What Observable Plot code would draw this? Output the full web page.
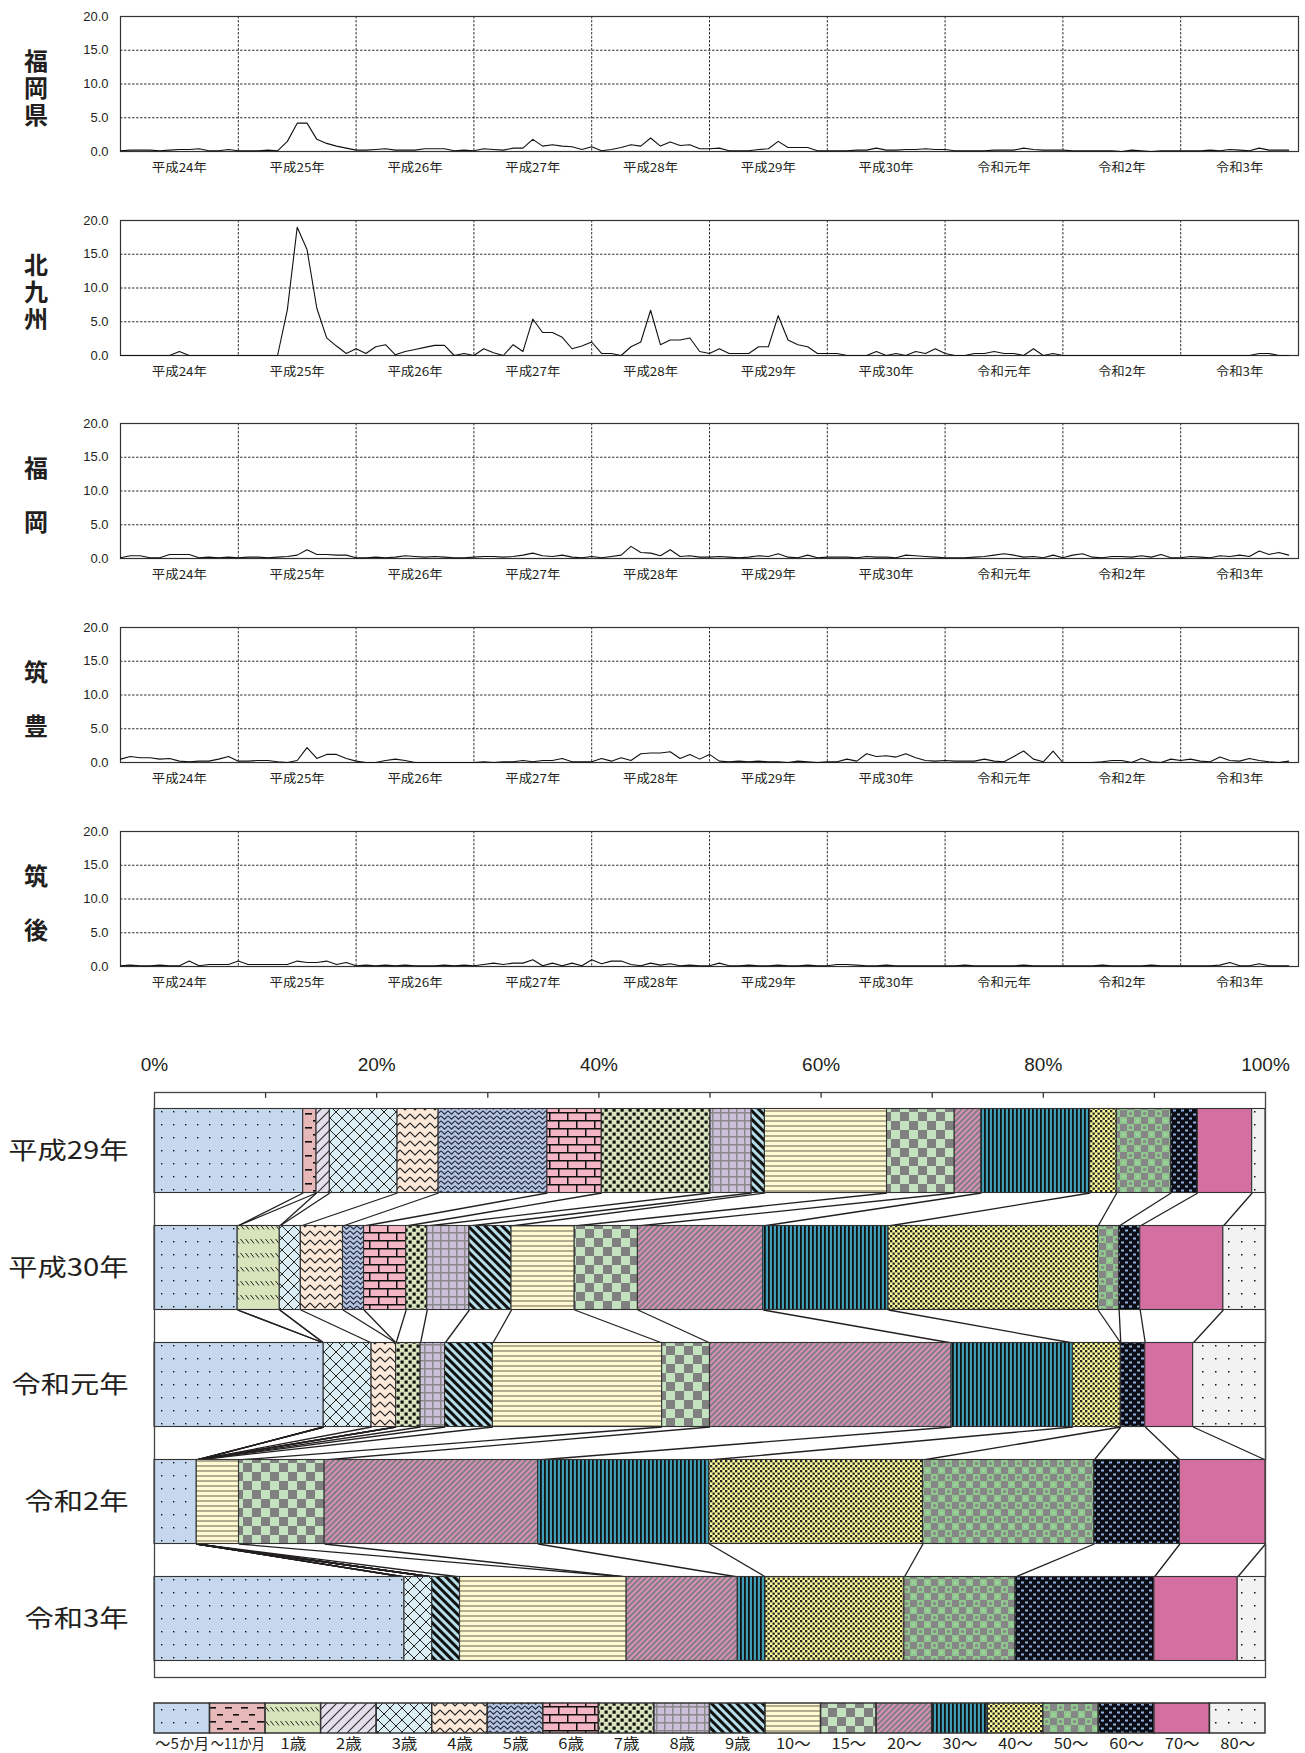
<!DOCTYPE html>
<html><head><meta charset="utf-8">
<script src="https://cdn.jsdelivr.net/npm/d3@7"></script>
<script src="https://cdn.jsdelivr.net/npm/@observablehq/plot@0.6"></script>
<style>
body{margin:0;background:#fff;}
#wrap{position:relative;width:1305px;height:1753px;overflow:hidden;background:#fff;}
</style></head><body>
<svg width="0" height="0" style="position:absolute;left:0;top:0">
<defs>
<pattern id="p0" patternUnits="userSpaceOnUse" width="12" height="13"><rect width="12" height="13" fill="#c6d8ee"/><rect x="5" y="6" width="1.4" height="1.4" fill="#111"/></pattern>
<pattern id="p1" patternUnits="userSpaceOnUse" width="16" height="14"><rect width="16" height="14" fill="#e6b8b7"/><rect x="1" y="3" width="7" height="1.6" fill="#111"/><rect x="9" y="10" width="6" height="1.6" fill="#111"/></pattern>
<pattern id="p2" patternUnits="userSpaceOnUse" width="5" height="14"><rect width="5" height="14" fill="#d8e4bc"/><path d="M0.5,3 L4,7.5" stroke="#222" stroke-width="1"/></pattern>
<pattern id="p3" patternUnits="userSpaceOnUse" width="10" height="10"><rect width="10" height="10" fill="#e4dfec"/><path d="M-1,11 L11,-1 M-1,1 L1,-1 M9,11 L11,9" stroke="#333" stroke-width="1.2"/></pattern>
<pattern id="p4" patternUnits="userSpaceOnUse" width="12" height="12"><rect width="12" height="12" fill="#dbeef4"/><path d="M0,0 L12,12 M12,0 L0,12" stroke="#222" stroke-width="1"/></pattern>
<pattern id="p5" patternUnits="userSpaceOnUse" width="10" height="9"><rect width="10" height="9" fill="#fde9d9"/><path d="M0,2 L5,7 L10,2" fill="none" stroke="#222" stroke-width="1.1"/></pattern>
<pattern id="p6" patternUnits="userSpaceOnUse" width="7" height="5"><rect width="7" height="5" fill="#b3c4df"/><path d="M0,0.8 L3.5,4.2 L7,0.8" fill="none" stroke="#23233a" stroke-width="1.1"/></pattern>
<pattern id="p7" patternUnits="userSpaceOnUse" width="18" height="16"><rect width="18" height="16" fill="#f4b6c4"/><path d="M0,0.75 H18 M0,8.75 H18 M0.75,0 V8 M9.75,8 V16" stroke="#111" stroke-width="1.5"/></pattern>
<pattern id="p8" patternUnits="userSpaceOnUse" width="8" height="8"><rect width="8" height="8" fill="#d7e4bd"/><rect x="0.5" y="0.5" width="3.2" height="3.2" fill="#111"/><rect x="4.5" y="4.5" width="3.2" height="3.2" fill="#111"/></pattern>
<pattern id="p9" patternUnits="userSpaceOnUse" width="8" height="8"><rect width="8" height="8" fill="#ccc0da"/><path d="M0,0.75 H8 M0.75,0 V8" stroke="#8a8a8a" stroke-width="1.5"/></pattern>
<pattern id="p10" patternUnits="userSpaceOnUse" width="6" height="6" patternTransform="rotate(-45)"><rect width="6" height="6" fill="#b7dee8"/><rect width="3" height="6" fill="#111"/></pattern>
<pattern id="p11" patternUnits="userSpaceOnUse" width="4" height="5"><rect width="4" height="5" fill="#fffad2"/><rect y="0" width="4" height="2" fill="#b5ad90"/></pattern>
<pattern id="p12" patternUnits="userSpaceOnUse" width="18" height="18"><rect width="18" height="18" fill="#c4e2c0"/><rect width="9" height="9" fill="#808080"/><rect x="9" y="9" width="9" height="9" fill="#808080"/></pattern>
<pattern id="p13" patternUnits="userSpaceOnUse" width="4" height="4" patternTransform="rotate(45)"><rect width="4" height="4" fill="#d98fb9"/><rect width="2" height="4" fill="#808080"/></pattern>
<pattern id="p14" patternUnits="userSpaceOnUse" width="4" height="4"><rect width="4" height="4" fill="#409db6"/><rect width="1.8" height="4" fill="#111"/></pattern>
<pattern id="p15" patternUnits="userSpaceOnUse" width="5" height="5"><rect width="5" height="5" fill="#ffff9c"/><rect width="2.3" height="2.3" fill="#222"/><rect x="2.5" y="2.5" width="2.3" height="2.3" fill="#222"/></pattern>
<pattern id="p16" patternUnits="userSpaceOnUse" width="14" height="14"><rect width="14" height="14" fill="#8fc78f"/><rect width="7" height="7" fill="#868686"/><rect x="7" y="7" width="7" height="7" fill="#868686"/><circle cx="10.5" cy="3.5" r="1.6" fill="#868686"/><circle cx="3.5" cy="10.5" r="1.6" fill="#9fd49f"/></pattern>
<pattern id="p17" patternUnits="userSpaceOnUse" width="8" height="8"><rect width="8" height="8" fill="#0d0d16"/><rect x="1" y="1.5" width="3" height="2" fill="#8db4e2"/><rect x="5" y="5.5" width="3" height="2" fill="#8db4e2"/></pattern>
<pattern id="p18" patternUnits="userSpaceOnUse" width="4" height="4"><rect width="4" height="4" fill="#d46fa2"/></pattern>
<pattern id="p19" patternUnits="userSpaceOnUse" width="13" height="13"><rect width="13" height="13" fill="#f2f2f2"/><rect x="6" y="6" width="1.5" height="1.5" fill="#111"/></pattern>
</defs></svg>
<div id="wrap"></div>
<script>
// ---------- data: monthly line charts ----------
const years = ["平成24年","平成25年","平成26年","平成27年","平成28年","平成29年","平成30年","令和元年","令和2年","令和3年"];
const regions = ["福岡県","北九州","福岡","筑豊","筑後"];

const fukuokaPref = [
 0.1,0.2,0.2,0.2,0.1,0.2,0.3,0.3,0.4,0.1,0.1,0.3,
 0.1,0.1,0.1,0.2,0.1,1.5,4.2,4.2,1.8,1.2,0.8,0.5,
 0.2,0.2,0.3,0.4,0.2,0.2,0.2,0.4,0.4,0.4,0.1,0.2,
 0.1,0.4,0.3,0.2,0.5,0.5,1.8,0.8,1.0,0.8,0.7,0.3,
 0.7,0.1,0.3,0.6,1.0,0.8,2.0,0.8,1.4,0.9,1.0,0.4,
 0.4,0.5,0.1,0.1,0.1,0.3,0.4,1.5,0.6,0.6,0.6,0.1,
 0.1,0.1,0.1,0.2,0.2,0.5,0.2,0.2,0.3,0.3,0.4,0.3,
 0.3,0.1,0.1,0.1,0.1,0.2,0.2,0.2,0.5,0.3,0.2,0.2,
 0.2,0.1,0.1,0.1,0.1,0.1,0.0,0.2,0.1,0.0,0.1,0.1,
 0.1,0.1,0.1,0.2,0.1,0.3,0.2,0.1,0.5,0.2,0.2,0.2];

const kitakyushu = [
 0,0,0,0,0,0,0.6,0,0,0,0,0,
 0,0,0,0,0,6.8,19.0,15.7,7.0,2.6,1.4,0.3,
 1.0,0.3,1.3,1.6,0.1,0.6,0.9,1.2,1.5,1.5,0.0,0.3,
 0.0,1.0,0.4,0.0,1.6,0.6,5.4,3.4,3.4,2.7,1.0,1.4,
 2.0,0.3,0.3,0.0,1.3,2.0,6.7,1.6,2.3,2.3,2.6,0.6,
 0.3,1.0,0.3,0.3,0.3,1.3,1.3,5.9,2.3,1.6,1.3,0.3,
 0.3,0.3,0.0,0.0,0.0,0.6,0.0,0.3,0.0,0.6,0.3,1.0,
 0.3,0.0,0.0,0.3,0.3,0.6,0.3,0.3,0.0,1.0,0.0,0.3,
 0,0,0,0,0,0,0,0,0,0,0,0,
 0,0,0,0,0,0,0,0,0.3,0.3,0,0];

const fukuoka = [
 0.1,0.4,0.4,0.1,0.1,0.6,0.6,0.6,0.1,0.2,0.1,0.2,
 0.1,0.2,0.2,0.1,0.2,0.3,0.5,1.3,0.6,0.6,0.5,0.5,
 0.1,0.1,0.2,0.1,0.2,0.4,0.3,0.2,0.3,0.2,0.1,0.1,
 0.2,0.3,0.3,0.2,0.3,0.5,0.8,0.4,0.3,0.5,0.2,0.1,
 0.3,0.1,0.3,0.5,1.8,0.9,0.8,0.4,1.3,0.3,0.4,0.2,
 0.2,0.3,0.2,0.1,0.2,0.4,0.3,0.7,0.2,0.1,0.5,0.1,
 0.2,0.2,0.2,0.1,0.3,0.2,0.2,0.1,0.5,0.4,0.3,0.2,
 0.1,0.1,0.1,0.2,0.3,0.5,0.7,0.5,0.2,0.3,0.1,0.5,
 0.1,0.5,0.7,0.2,0.1,0.3,0.3,0.2,0.4,0.2,0.6,0.1,
 0.1,0.3,0.2,0.1,0.4,0.3,0.5,0.3,1.1,0.6,0.9,0.5];

const chikuho = [
 0.5,0.9,0.7,0.7,0.5,0.6,0.2,0.1,0.2,0.2,0.5,0.9,
 0.2,0.2,0.3,0.3,0.1,0.0,0.3,2.2,0.6,1.2,1.2,0.6,
 0.2,0.0,0.0,0.3,0.5,0.3,0.0,0.0,0.0,0.0,0.0,0.0,
 0.0,0.1,0.0,0.1,0.1,0.3,0.1,0.3,0.3,0.6,0.1,0.1,
 0.1,0.6,0.2,0.7,0.3,1.3,1.4,1.4,1.6,0.6,1.2,0.5,
 1.2,0.2,0.1,0.2,0.1,0.2,0.1,0.1,0.0,0.2,0.1,0.0,
 0.1,0.1,0.5,0.2,1.3,0.9,1.0,0.8,1.3,0.7,0.3,0.2,
 0.3,0.2,0.2,0.2,0.5,0.2,0.1,0.9,1.7,0.5,0.1,1.7,
 0.0,0.0,0.0,0.0,0.1,0.3,0.3,0.0,0.6,0.1,0.0,0.5,
 0.3,0.5,0.2,0.1,0.8,0.3,0.2,0.6,0.3,0.1,0.0,0.2];

const chikugo = [
 0.1,0.2,0.1,0.1,0.2,0.1,0.1,0.8,0.1,0.3,0.3,0.3,
 0.8,0.3,0.3,0.3,0.3,0.3,0.8,0.6,0.6,0.8,0.3,0.6,
 0.1,0.2,0.1,0.2,0.1,0.2,0.1,0.1,0.1,0.2,0.1,0.2,
 0.1,0.3,0.5,0.3,0.5,0.5,1.0,0.1,0.5,0.1,0.5,0.1,
 1.0,0.4,0.8,0.8,0.3,0.1,0.5,0.2,0.4,0.1,0.2,0.1,
 0.1,0.5,0.1,0.1,0.2,0.1,0.1,0.2,0.1,0.1,0.2,0.1,
 0.1,0.3,0.3,0.2,0.1,0.1,0.2,0.1,0.1,0.1,0.1,0.1,
 0.1,0.1,0.2,0.1,0.1,0.1,0.1,0.1,0.2,0.1,0.1,0.1,
 0.1,0.1,0.1,0.1,0.2,0.1,0.1,0.1,0.1,0.2,0.1,0.1,
 0.1,0.1,0.1,0.1,0.2,0.6,0.1,0.1,0.4,0.1,0.1,0.1];

// ---------- data: age distribution (%) ----------
const ageCats = ["～5か月","～11か月","1歳","2歳","3歳","4歳","5歳","6歳","7歳","8歳","9歳","10～","15～","20～","30～","40～","50～","60～","70～","80～"];
const barYears = ["平成29年","平成30年","令和元年","令和2年","令和3年"];
const pctH29 = [13.4,1.2,0,1.2,6.1,3.7,9.8,4.9,9.8,3.7,1.2,11.0,6.1,2.4,9.8,2.4,4.9,2.4,4.9,1.2];
const pctH30 = [7.5,0,3.8,0,1.9,3.8,1.9,3.8,1.9,3.8,3.8,5.7,5.7,11.3,11.3,18.9,1.9,1.9,7.5,3.8];
const pctR1  = [15.2,0,0,0,4.3,2.2,0,0,2.2,2.2,4.3,15.2,4.3,21.7,10.9,4.3,0,2.2,4.3,6.5];
const pctR2  = [3.8,0,0,0,0,0,0,0,0,0,0,3.8,7.7,19.2,15.4,19.2,15.4,7.7,7.7,0];
const pctR3  = [22.5,0,0,0,2.5,0,0,0,0,0,2.5,15.0,0,10.0,2.5,12.5,10.0,12.5,7.5,2.5];

// ---------- rendering ----------
const wrap = document.getElementById("wrap");
const ink = "#231f20";
const cjk = "'Noto Sans CJK JP', 'Noto Sans', sans-serif";
const latin = "'Liberation Sans', Arial, sans-serif";

function place(svg, top) {
  svg.style.position = "absolute";
  svg.style.left = "0px";
  svg.style.top = top + "px";
  wrap.appendChild(svg);
  return svg;
}
function stretch(svg, factor, test, maxLen = Infinity) {
  svg.querySelectorAll("text").forEach(t => {
    if (t.querySelector("tspan")) return;
    if (!test(t.textContent)) return;
    const w = t.getComputedTextLength();
    if (w > 0) {
      t.setAttribute("textLength", Math.min(w * factor, maxLen).toFixed(1));
      t.setAttribute("lengthAdjust", "spacingAndGlyphs");
    }
  });
}
// turn a horizontal label into vertical (top-to-bottom) text centred on (cx, cy)
function verticalize(svg, label, spacing, cx, cy) {
  const t = [...svg.querySelectorAll("text")].find(e => e.textContent === label);
  if (!t) return;
  t.style.writingMode = "vertical-rl";
  t.setAttribute("letter-spacing", spacing);
  const n = label.length;
  const e0 = t.getExtentOfChar(0), eN = t.getExtentOfChar(n - 1);
  const m = t.getCTM();
  const lx = e0.x + e0.width / 2, ly = (e0.y + eN.y + eN.height - spacing) / 2;
  const rx = m.a * lx + m.c * ly + m.e, ry = m.b * lx + m.d * ly + m.f;
  const prev = t.getAttribute("transform") || "";
  t.setAttribute("transform", `translate(${cx - rx},${cy - ry}) ${prev}`);
}

const series = [fukuokaPref, kitakyushu, fukuoka, chikuho, chikugo];
series.forEach((vals, k) => {
  const mt = 10, mb = 30, ph = 135;
  const name = regions[k];
  const svg = Plot.plot({
    width: 1305, height: mt + ph + mb,
    marginTop: mt, marginBottom: mb, marginLeft: 120, marginRight: 7,
    style: {fontFamily: latin, fontSize: "13px", color: ink, background: "transparent"},
    x: {domain: [0, 120]},
    y: {domain: [0, 20]},
    marks: [
      Plot.ruleY([5, 10, 15, 20], {stroke: "#333", strokeDasharray: "2.5,1.5", strokeWidth: 1}),
      Plot.ruleX(d3.range(12, 120, 12), {stroke: "#333", strokeDasharray: "2.5,1.5", strokeWidth: 1}),
      Plot.frame({stroke: "#333", strokeWidth: 1.2}),
      Plot.lineY(vals, {x: (d, i) => i, y: d => d, stroke: "#111", strokeWidth: 1.1}),
      Plot.axisY({ticks: [0, 5, 10, 15, 20], tickFormat: d3.format(".1f"), tickSize: 0, tickPadding: 12, label: null, fontSize: 13, fontFamily: latin}),
      Plot.axisX({ticks: d3.range(6, 120, 12), tickFormat: d => years[Math.round((d - 6) / 12)], tickSize: 0, tickPadding: 12, label: null, fontSize: 12, fontFamily: cjk}),
      Plot.text([name], {frameAnchor: "left", dx: -84, text: d => d, fontSize: 24, fontWeight: "bold", fontFamily: cjk, textAnchor: "middle", fill: ink})
    ]
  });
  place(svg, 16 + 203.7 * k - mt);
  stretch(svg, 1.12, s => years.includes(s));
  verticalize(svg, name, name.length === 3 ? 3 : 30, 36, mt + ph / 2 + 4);
});

// ---------- 100% stacked bars ----------
const shares = [pctH29, pctH30, pctR1, pctR2, pctR3];
const segs = [], ends = [];
shares.forEach((arr, j) => {
  const total = d3.sum(arr);
  const cum = Array.from(d3.cumsum(arr), v => v / total * 100);
  ends.push(cum);
  arr.forEach((v, c) => {
    if (v > 0) segs.push({x1: cum[c] - v / total * 100, x2: cum[c], y1: j + 0.141, y2: j + 0.859, fill: `url(#p${c})`});
  });
});
const links = [];
for (let j = 0; j < shares.length - 1; j++) {
  ageCats.forEach((c, ci) => links.push({x1: ends[j][ci], y1: j + 0.859, x2: ends[j + 1][ci], y2: j + 1.141}));
}

const barSvg = Plot.plot({
  width: 1305, height: 52 + 585 + 2,
  marginTop: 52, marginBottom: 2, marginLeft: 154, marginRight: 40,
  style: {fontFamily: latin, fontSize: "18px", color: ink, background: "transparent"},
  x: {domain: [0, 100]},
  y: {domain: [0, 5], reverse: true, axis: null},
  color: {type: "identity"},
  marks: [
    Plot.link(links, {x1: "x1", y1: "y1", x2: "x2", y2: "y2", stroke: "#231f20", strokeWidth: 1.3}),
    Plot.rect(segs, {x1: "x1", x2: "x2", y1: "y1", y2: "y2", fill: "fill", stroke: "#333", strokeWidth: 1.1}),
    Plot.ruleX(d3.range(10, 100, 10), {y1: 0, y2: 0.05, stroke: "#333", strokeWidth: 1.3}),
    Plot.frame({stroke: "#444", strokeWidth: 1.3}),
    Plot.axisX({anchor: "top", ticks: d3.range(0, 101, 20), tickFormat: d => d + "%", tickSize: 0, tickPadding: 22, label: null, fontSize: 19, fontFamily: latin}),
    Plot.text(barYears, {x: 0, y: (d, i) => i + 0.5, text: d => d, textAnchor: "end", dx: -26, fontSize: 24, fontFamily: cjk, fill: ink})
  ]
});
place(barSvg, 1040);
stretch(barSvg, 1.22, s => barYears.includes(s));

// ---------- legend ----------
const legSvg = Plot.plot({
  width: 1305, height: 63,
  marginTop: 13, marginBottom: 20, marginLeft: 154, marginRight: 40,
  style: {fontFamily: cjk, fontSize: "15px", color: ink, background: "transparent"},
  x: {domain: ageCats, padding: 0, round: false},
  color: {type: "identity"},
  marks: [
    Plot.cell(ageCats, {x: d => d, fill: (d, i) => `url(#p${i})`, stroke: "#333", strokeWidth: 1.5, inset: 0}),
    Plot.axisX({tickSize: 0, tickPadding: 5, label: null, fontSize: 15, fontFamily: cjk})
  ]
});
place(legSvg, 1690);
stretch(legSvg, 1.1, s => ageCats.includes(s), 54);
</script>
</body></html>
